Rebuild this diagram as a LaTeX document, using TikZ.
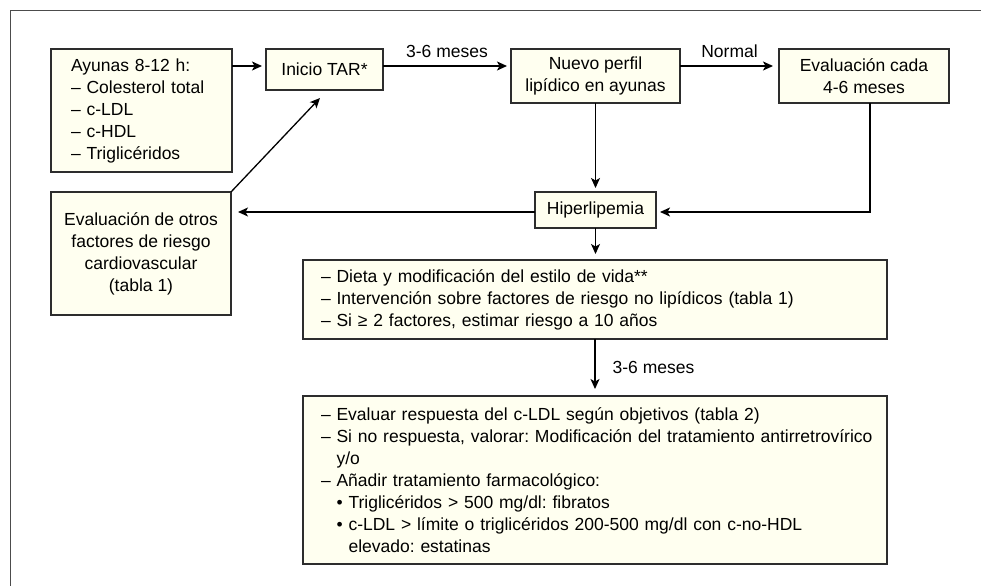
\documentclass[tikz,border=0pt]{standalone}
\usepackage{fontspec}
\setmainfont{Liberation Sans}
\usetikzlibrary{arrows.meta,calc}
\definecolor{boxfill}{RGB}{255,255,240}
\definecolor{boxline}{RGB}{45,45,45}
\frenchspacing
\begin{document}
\begin{tikzpicture}[x=1pt,y=-1pt,
  every node/.style={font=\fontsize{17.5}{22}\selectfont},
  box/.style={draw=boxline, fill=boxfill, line width=1.3pt, inner sep=0pt, outer sep=0pt},
  arr/.style={draw=black, line width=1.3pt, shorten >=4pt, -{Stealth[length=10pt,width=9pt,inset=2.5pt]}},
  lbl/.style={inner sep=0pt}]
\useasboundingbox (0,0) rectangle (981,586);
% frame
\draw[line width=1pt, black!70] (981,11) -- (10,11) -- (10,586);
% boxes
\node[box, minimum width=181pt, minimum height=123pt, text width=141pt, align=left] (A) at (141.5,110.5)
 {Ayunas 8-12 h:\\– Colesterol total\\– c-LDL\\– c-HDL\\– Triglicéridos};
\node[box, minimum width=117pt, minimum height=41pt] (B) at (324.5,69.5) {Inicio TAR*};
\node[box, minimum width=169pt, minimum height=54pt, align=center] (C) at (595.5,76) {Nuevo perfil\\lipídico en ayunas};
\node[box, minimum width=170pt, minimum height=54pt, align=center] (D) at (864,76) {Evaluación cada\\4-6 meses};
\node[box, minimum width=121pt, minimum height=36pt] (E) at (595.5,210) {Hiperlipemia};
\node[box, minimum width=180pt, minimum height=123pt, align=center] (F) at (141,253.5)
 {Evaluación de otros\\factores de riesgo\\cardiovascular\\(tabla 1)};
\node[box, minimum width=584pt, minimum height=79pt, text width=548pt, align=left] (G) at (595,299.5)
 {– Dieta y modificación del estilo de vida**\\
  – Intervención sobre factores de riesgo no lipídicos (tabla 1)\\
  – Si ≥ 2 factores, estimar riesgo a 10 años};
\node[box, minimum width=584pt, minimum height=168pt, text width=548pt, align=left] (H) at (595,480)
 {– Evaluar respuesta del c-LDL según objetivos (tabla 2)\\
  \mbox{– Si no respuesta, valorar: Modificación del tratamiento antirretrovírico}\\
  \phantom{– }y/o\\
  – Añadir tratamiento farmacológico:\\
  \phantom{– }• Triglicéridos > 500 mg/dl: fibratos\\
  \phantom{– }• c-LDL > límite o triglicéridos 200-500 mg/dl con c-no-HDL\\
  \phantom{– • }elevado: estatinas};
% connectors
\draw[arr] (A.east |- 0,66) -- (B.west |- 0,66);
\draw[arr] (B.east |- 0,66) -- node[lbl, midway, above=8pt] {3-6 meses} (C.west |- 0,66);
\draw[arr, shorten >=6pt] (C.east |- 0,66) -- node[lbl, midway, above=8pt] {Normal} (D.west |- 0,66);
\draw[arr] (C.south) -- (E.north);
\draw[arr] ([xshift=6pt]D.south) |- ($(E.east)+(0,2)$);
\draw[arr, shorten >=7pt] ($(E.west)+(0,2)$) -- ($(F.east |- E.west)+(0,2)$);
\draw[arr, shorten >=0pt] (F.north east) -- ($(B.south)+(-4.5,8)$);
\draw[arr, shorten >=6pt] (E.south) -- (E.south |- G.north);
\draw[arr, shorten >=7pt] (G.south) -- node[lbl, midway, right=17pt] {3-6 meses} (G.south |- H.north);
\end{tikzpicture}
\end{document}
